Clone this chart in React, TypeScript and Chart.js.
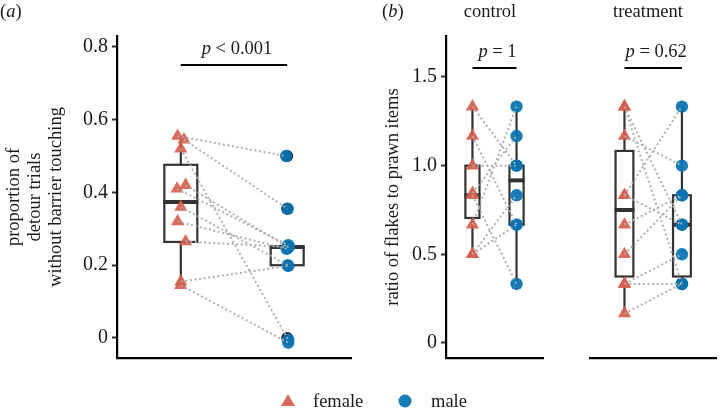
import React, { useEffect, useRef } from "react";
import { Chart, registerables } from "chart.js";

Chart.register(...registerables);

const SERIF = "'Liberation Serif', 'Times New Roman', Times, serif";
const FEMALE_COLOR = "rgba(214, 96, 77, 0.93)";
const MALE_COLOR = "rgba(6, 114, 178, 0.93)";
const OUTLIER_COLOR = "#222222";
const BOX_COLOR = "#333333";
const PAIR_COLOR = "rgba(172, 172, 172, 0.95)";
const AXIS_COLOR = "#000000";
const TEXT_COLOR = "#1a1a1a";

const GROUPS = ["female", "male"];
const GROUP_X = [1, 2];

// ---------- panel (a) ----------
const A_Y_TICKS = [0, 0.2, 0.4, 0.6, 0.8];
const A_FEMALE = [0.555, 0.545, 0.52, 0.42, 0.41, 0.36, 0.32, 0.265, 0.155, 0.145];
const A_FEMALE_JITTER = [-0.03, 0.03, 0, 0.045, -0.035, 0, -0.03, 0.045, 0, 0];
const A_MALE = [0.5, 0.355, -0.005, 0.25, 0.255, 0.2, 0.245, 0.25, 0.198, -0.013];
const A_MALE_JITTER = [-0.01, 0.005, 0.01, 0.005, 0.01, 0.005, -0.005, 0.015, 0.01, 0.01];
const A_MALE_OUTLIERS = [0.5, 0.355, 0];
const A_FEMALE_BOX = [0.145, 0.264, 0.374, 0.476, 0.555]; // lower whisker, Q1, median, Q3, upper whisker
const A_MALE_BOX = [0.2, 0.2, 0.25, 0.25, 0.25];
const A_P_LABEL = ["p", " < 0.001"];
const A_BRACKET_Y = 0.75;
const A_Y_TITLE = ["proportion of", "detour trials", "without barrier touching"];

// ---------- panel (b) ----------
const B_Y_TICKS = [0, 0.5, 1.0, 1.5];
const B_Y_TITLE = "ratio of flakes to prawn items";
const FACETS = ["control", "treatment"];

const CONTROL_FEMALE = [1.333, 1.167, 1.0, 0.833, 0.845, 0.667, 0.5, 0.5];
const CONTROL_MALE = [1.0, 0.667, 1.0, 0.333, 1.167, 1.333, 0.833, 0.667];
const CONTROL_FEMALE_BOX = [0.5, 0.705, 0.833, 1.0, 1.333];
const CONTROL_MALE_BOX = [0.333, 0.667, 0.917, 1.0, 1.333];
const CONTROL_P_LABEL = ["p", " = 1"];

const TREAT_FEMALE = [1.333, 1.333, 1.167, 0.833, 0.833, 0.667, 0.5, 0.333, 0.333, 0.167];
const TREAT_MALE = [0.667, 0.333, 1.0, 1.333, 0.667, 0.833, 0.833, 0.5, 0.333, 0.333];
const TREAT_FEMALE_BOX = [0.167, 0.375, 0.75, 1.083, 1.333];
const TREAT_MALE_BOX = [0.333, 0.375, 0.667, 0.833, 1.333];
const TREAT_P_LABEL = ["p", " = 0.62"];

const B_BRACKET_Y = 1.55;

// ---------- drawing helpers ----------
function drawRich(ctx: CanvasRenderingContext2D, parts: { t: string; it: boolean }[], x: number, baseline: number, size: number, align: "left" | "center") {
  const fonts = parts.map((p) => `${p.it ? "italic " : ""}${size}px ${SERIF}`);
  const widths = parts.map((p, i) => {
    ctx.font = fonts[i];
    return ctx.measureText(p.t).width;
  });
  const total = widths.reduce((a, b) => a + b, 0);
  let cur = align === "center" ? x - total / 2 : x;
  ctx.textBaseline = "alphabetic";
  ctx.textAlign = "left";
  ctx.fillStyle = TEXT_COLOR;
  parts.forEach((p, i) => {
    ctx.font = fonts[i];
    ctx.fillText(p.t, cur, baseline);
    cur += widths[i];
  });
}

function boxPlugin(boxes: { pos: number; stats: number[] }[], widthUnits: number) {
  return {
    id: "boxes",
    beforeDatasetsDraw(chart: any) {
      const { ctx } = chart;
      const x = chart.scales.x;
      const y = chart.scales.y;
      ctx.save();
      ctx.strokeStyle = BOX_COLOR;
      for (const b of boxes) {
        const [lo, q1, med, q3, hi] = b.stats;
        const xc = x.getPixelForValue(b.pos);
        const xl = x.getPixelForValue(b.pos - widthUnits / 2);
        const xr = x.getPixelForValue(b.pos + widthUnits / 2);
        const yLo = y.getPixelForValue(lo);
        const yQ1 = y.getPixelForValue(q1);
        const yMed = y.getPixelForValue(med);
        const yQ3 = y.getPixelForValue(q3);
        const yHi = y.getPixelForValue(hi);
        ctx.lineWidth = 2.2;
        ctx.beginPath();
        ctx.moveTo(xc, yLo);
        ctx.lineTo(xc, yQ1);
        ctx.moveTo(xc, yQ3);
        ctx.lineTo(xc, yHi);
        ctx.stroke();
        ctx.fillStyle = "#ffffff";
        ctx.fillRect(xl, yQ3, xr - xl, yQ1 - yQ3);
        ctx.strokeRect(xl, yQ3, xr - xl, yQ1 - yQ3);
        ctx.lineWidth = 4;
        ctx.beginPath();
        ctx.moveTo(xl - 1, yMed);
        ctx.lineTo(xr + 1, yMed);
        ctx.stroke();
      }
      ctx.restore();
    },
  };
}

type LabelOpts = {
  pLabel: string[];
  bracketY: number;
  tag?: { text: string; x: number };
  facet?: { text: string; x: number };
  legend?: boolean;
};

function labelPlugin(o: LabelOpts) {
  return {
    id: "labels",
    afterDraw(chart: any) {
      const { ctx } = chart;
      const x = chart.scales.x;
      const y = chart.scales.y;
      ctx.save();
      // significance bracket
      const x1 = x.getPixelForValue(GROUP_X[0]);
      const x2 = x.getPixelForValue(GROUP_X[1]);
      const yb = y.getPixelForValue(o.bracketY);
      ctx.strokeStyle = AXIS_COLOR;
      ctx.lineWidth = 2;
      ctx.beginPath();
      ctx.moveTo(x1, yb);
      ctx.lineTo(x2, yb);
      ctx.stroke();
      drawRich(ctx, [{ t: o.pLabel[0], it: true }, { t: o.pLabel[1], it: false }], (x1 + x2) / 2 + 3, yb - 11, 18.5, "center");
      // panel tag
      if (o.tag) {
        drawRich(
          ctx,
          [
            { t: "(", it: false },
            { t: o.tag.text, it: true },
            { t: ")", it: false },
          ],
          o.tag.x,
          17,
          18.5,
          "left"
        );
      }
      if (o.facet) {
        drawRich(ctx, [{ t: o.facet.text, it: false }], o.facet.x, 17, 18.5, "center");
      }
      if (o.legend) {
        // female triangle
        const r = 8;
        const tx = 288, ty = 402;
        ctx.fillStyle = FEMALE_COLOR;
        ctx.beginPath();
        let rad = 0;
        ctx.moveTo(tx + Math.sin(rad) * r, ty - Math.cos(rad) * r);
        rad += (2 * Math.PI) / 3;
        ctx.lineTo(tx + Math.sin(rad) * r, ty - Math.cos(rad) * r);
        rad += (2 * Math.PI) / 3;
        ctx.lineTo(tx + Math.sin(rad) * r, ty - Math.cos(rad) * r);
        ctx.closePath();
        ctx.fill();
        drawRich(ctx, [{ t: GROUPS[0], it: false }], 313, 407, 18.5, "left");
        ctx.fillStyle = MALE_COLOR;
        ctx.beginPath();
        ctx.arc(405, 401, 6.5, 0, Math.PI * 2);
        ctx.fill();
        drawRich(ctx, [{ t: GROUPS[1], it: false }], 431, 407, 18.5, "left");
      }
      ctx.restore();
    },
  };
}

type PanelCfg = {
  female: number[];
  male: number[];
  fJit?: number[];
  mJit?: number[];
  outliers?: number[];
  boxes: number[][];
  boxWidth: number;
  yMin: number;
  yMax: number;
  yTicks: number[];
  showY: boolean;
  yWidth: number;
  yTitle: string | string[];
  yTitlePad: number;
  padding: { left: number; right: number; top: number; bottom: number };
  labels: LabelOpts;
};

function makeChart(canvas: HTMLCanvasElement, c: PanelCfg) {
  const fj = c.fJit || c.female.map(() => 0);
  const mj = c.mJit || c.male.map(() => 0);
  const pairs: { x: number; y: number | null }[] = [];
  c.female.forEach((f, i) => {
    pairs.push({ x: GROUP_X[0] + fj[i], y: f });
    pairs.push({ x: GROUP_X[1] + mj[i], y: c.male[i] });
    pairs.push({ x: 1.5, y: null });
  });
  const datasets: any[] = [
    {
      type: "line",
      label: "pairs",
      data: pairs,
      borderColor: PAIR_COLOR,
      borderWidth: 2,
      borderDash: [2, 2.6],
      pointRadius: 0,
      spanGaps: false,
      fill: false,
      order: 0,
    },
    {
      type: "scatter",
      label: GROUPS[0],
      data: c.female.map((v, i) => ({ x: GROUP_X[0] + fj[i], y: v })),
      pointStyle: "triangle",
      pointRadius: 7.6,
      backgroundColor: FEMALE_COLOR,
      borderWidth: 0,
      order: 1,
    },
    {
      type: "scatter",
      label: GROUPS[1],
      data: c.male.map((v, i) => ({ x: GROUP_X[1] + mj[i], y: v })),
      pointStyle: "circle",
      pointRadius: 6.2,
      backgroundColor: MALE_COLOR,
      borderWidth: 0,
      order: 1,
    },
  ];
  if (c.outliers) {
    datasets.push({
      type: "scatter",
      label: "outliers",
      data: c.outliers.map((v) => ({ x: GROUP_X[1], y: v })),
      pointStyle: "circle",
      pointRadius: 6,
      backgroundColor: OUTLIER_COLOR,
      borderWidth: 0,
      order: 2,
    });
  }
  return new Chart(canvas, {
    type: "scatter",
    data: { datasets },
    options: {
      animation: false,
      responsive: false,
      events: [],
      layout: { padding: c.padding },
      plugins: { legend: { display: false }, tooltip: { enabled: false } },
      scales: {
        x: {
          type: "linear",
          min: 0.4,
          max: 2.6,
          ticks: { display: false },
          grid: { display: false },
          border: { display: true, color: AXIS_COLOR, width: 2.2 },
          afterFit: (s: any) => {
            s.height = 53;
          },
        },
        y: {
          type: "linear",
          display: c.showY,
          min: c.yMin,
          max: c.yMax,
          afterBuildTicks: (s: any) => {
            s.ticks = c.yTicks.map((v) => ({ value: v }));
          },
          ticks: {
            padding: 4,
            color: TEXT_COLOR,
            font: { family: SERIF, size: 20 },
            callback: (v: any) => (Number(v) === 0 ? "0" : Number(v).toFixed(1)),
          },
          grid: {
            display: true,
            drawOnChartArea: false,
            drawTicks: true,
            tickLength: 5,
            tickWidth: 2,
            tickColor: BOX_COLOR,
          },
          border: { display: true, color: AXIS_COLOR, width: 2.2 },
          title: {
            display: true,
            text: c.yTitle,
            color: TEXT_COLOR,
            font: { family: SERIF, size: 18.5, lineHeight: 1.14 },
            padding: { top: c.yTitlePad, bottom: 0 },
          },
          afterFit: (s: any) => {
            s.width = c.yWidth;
          },
        },
      },
    } as any,
    plugins: [
      boxPlugin(
        [
          { pos: GROUP_X[0], stats: c.boxes[0] },
          { pos: GROUP_X[1], stats: c.boxes[1] },
        ],
        c.boxWidth
      ),
      labelPlugin(c.labels),
    ],
  });
}

const W = 724;
const H = 411;

export default function App() {
  const aRef = useRef<HTMLCanvasElement>(null);
  const cRef = useRef<HTMLCanvasElement>(null);
  const tRef = useRef<HTMLCanvasElement>(null);

  useEffect(() => {
    const charts: Chart[] = [];
    const bYMin = -0.0846;
    const bYMax = 1.731;
    charts.push(
      makeChart(aRef.current!, {
        female: A_FEMALE,
        male: A_MALE,
        fJit: A_FEMALE_JITTER,
        mJit: A_MALE_JITTER,
        outliers: A_MALE_OUTLIERS,
        boxes: [A_FEMALE_BOX, A_MALE_BOX],
        boxWidth: 0.31,
        yMin: -0.055,
        yMax: 0.83,
        yTicks: A_Y_TICKS,
        showY: true,
        yWidth: 117,
        yTitle: A_Y_TITLE,
        yTitlePad: 3.5,
        padding: { left: 0, right: W - 351, top: 36, bottom: 0 },
        labels: { pLabel: A_P_LABEL, bracketY: A_BRACKET_Y, tag: { text: "a", x: 0 }, legend: true },
      })
    );
    charts.push(
      makeChart(cRef.current!, {
        female: CONTROL_FEMALE,
        male: CONTROL_MALE,
        boxes: [CONTROL_FEMALE_BOX, CONTROL_MALE_BOX],
        boxWidth: 0.32,
        yMin: bYMin,
        yMax: bYMax,
        yTicks: B_Y_TICKS,
        showY: true,
        yWidth: 76,
        yTitle: B_Y_TITLE,
        yTitlePad: 13,
        padding: { left: 370, right: W - 543, top: 36, bottom: 0 },
        labels: { pLabel: CONTROL_P_LABEL, bracketY: B_BRACKET_Y, tag: { text: "b", x: 382 }, facet: { text: FACETS[0], x: 490 } },
      })
    );
    charts.push(
      makeChart(tRef.current!, {
        female: TREAT_FEMALE,
        male: TREAT_MALE,
        boxes: [TREAT_FEMALE_BOX, TREAT_MALE_BOX],
        boxWidth: 0.31,
        yMin: bYMin,
        yMax: bYMax,
        yTicks: B_Y_TICKS,
        showY: false,
        yWidth: 0,
        yTitle: "",
        yTitlePad: 0,
        padding: { left: 590, right: 0, top: 36, bottom: 0 },
        labels: { pLabel: TREAT_P_LABEL, bracketY: B_BRACKET_Y, facet: { text: FACETS[1], x: 648 } },
      })
    );
    return () => charts.forEach((ch) => ch.destroy());
  }, []);

  const cs: React.CSSProperties = { position: "absolute", left: 0, top: 0, width: W, height: H, pointerEvents: "none" };
  return (
    <div style={{ position: "fixed", left: 0, top: 0, width: W, height: H, background: "#ffffff" }}>
      <canvas ref={aRef} width={W} height={H} style={cs} />
      <canvas ref={cRef} width={W} height={H} style={cs} />
      <canvas ref={tRef} width={W} height={H} style={cs} />
    </div>
  );
}
